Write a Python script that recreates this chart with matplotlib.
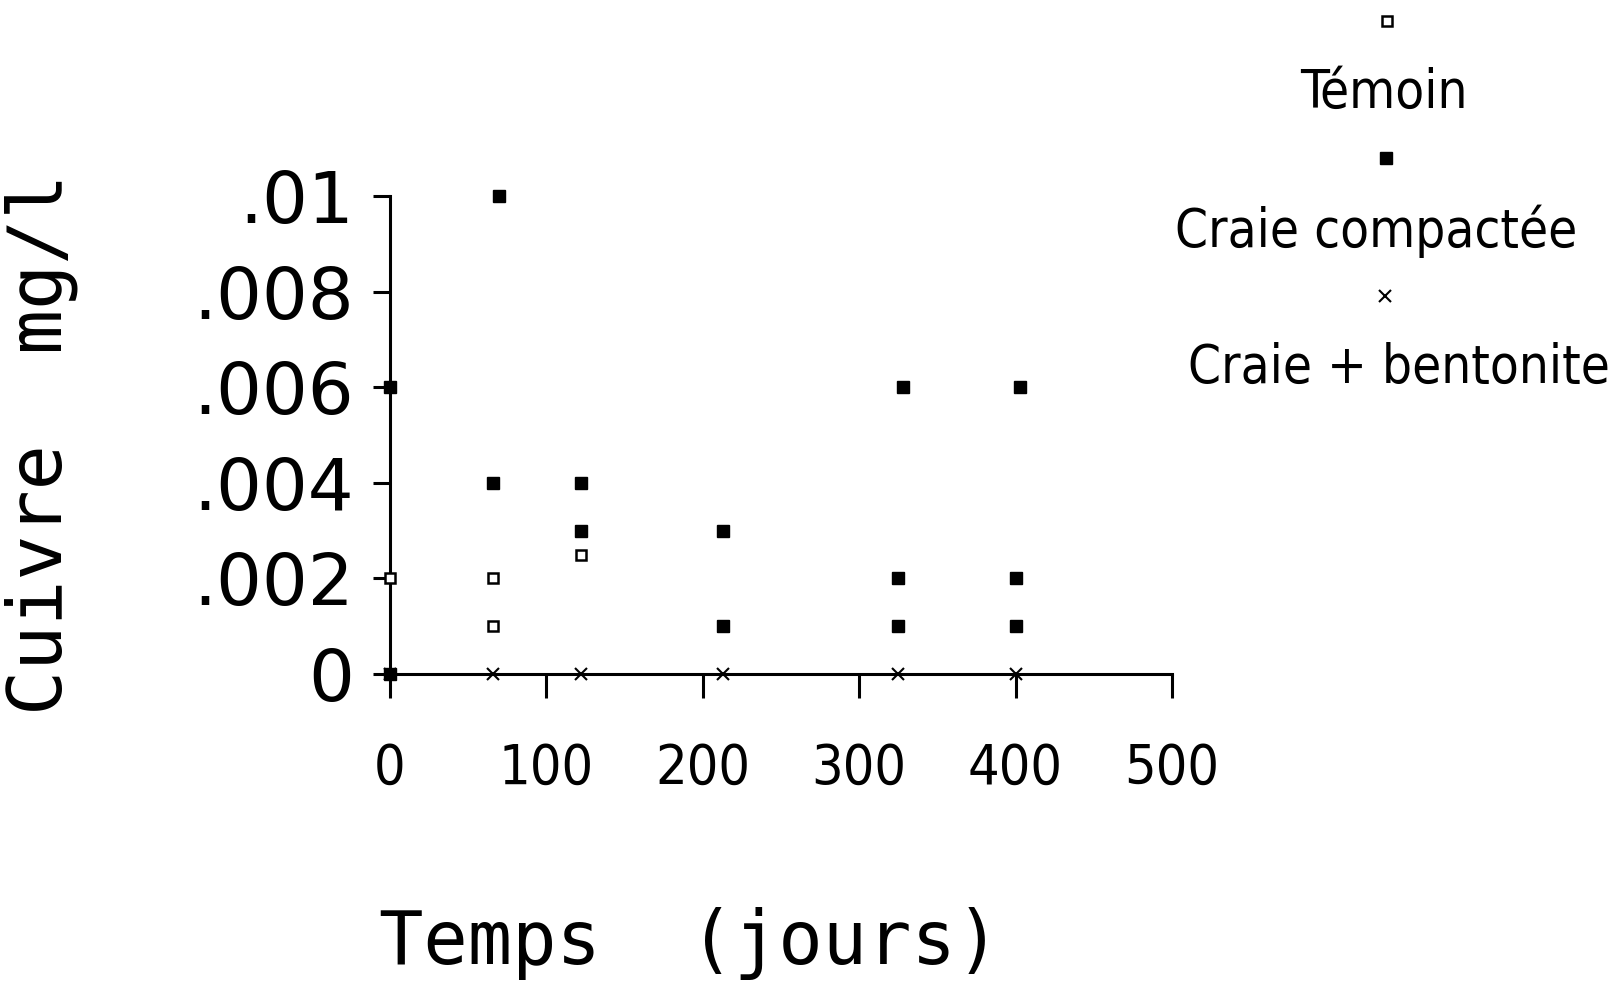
import matplotlib
matplotlib.use("Agg")
from matplotlib import pyplot as plt
from matplotlib.lines import Line2D

# data (days, mg/l)
temoin_x = [0, 66, 66, 122, 213, 325, 400]
temoin_y = [0.002, 0.002, 0.001, 0.0025, 0.001, 0.002, 0.002]

compactee_x = [0, 0, 70, 66, 122, 122, 213, 213, 328, 325, 325, 403, 400, 400]
compactee_y = [0.006, 0.0, 0.01, 0.004, 0.004, 0.003, 0.003, 0.001, 0.006, 0.002, 0.001,
               0.006, 0.002, 0.001]

bentonite_x = [0, 66, 122, 213, 325, 400]
bentonite_y = [0.0, 0.0, 0.0, 0.0, 0.0, 0.0]

x_ticks = [0, 100, 200, 300, 400, 500]
y_ticks = [0, 0.002, 0.004, 0.006, 0.008, 0.01]
y_tick_labels = ["0", ".002", ".004", ".006", ".008", ".01"]

labels = ["Témoin", "Craie compactée", "Craie + bentonite"]

narrow = dict(family="DejaVu Sans", stretch="condensed")
mono = ["DejaVu Sans Mono", "DejaVu Sans"]

fig = plt.figure(figsize=(16.18, 9.83), dpi=100)
ax = fig.add_axes([0.2410, 0.3143, 0.4833, 0.4863])

ax.plot(temoin_x, temoin_y, ls="none", marker="s", ms=7, mfc="white",
        mec="black", mew=1.8, clip_on=False, zorder=3)
ax.plot(compactee_x, compactee_y, ls="none", marker="s", ms=9, mfc="black",
        mec="black", clip_on=False, zorder=4)
ax.plot(bentonite_x, bentonite_y, ls="none", marker="x", ms=8, mec="black",
        mew=1.5, clip_on=False, zorder=4)

ax.set_xlim(0, 500)
ax.set_ylim(0, 0.01)
for s in ["top", "right"]:
    ax.spines[s].set_visible(False)
for s in ["left", "bottom"]:
    ax.spines[s].set_linewidth(2.2)

ax.set_xticks(x_ticks)
ax.set_xticklabels([str(v) for v in x_ticks], fontsize=40, **narrow)
ax.set_yticks(y_ticks)
ax.set_yticklabels(y_tick_labels, fontsize=52)
ax.tick_params(axis="x", direction="out", length=17, width=2.2, pad=32)
ax.tick_params(axis="y", direction="out", length=12, width=2.2, pad=14)

fig.text(0.426, 0.0397, "Temps  (jours)", family=mono, fontsize=53,
         ha="center", va="center")
fig.text(0.0255, 0.548, "Cuivre  mg/l", family=mono, fontsize=54,
         ha="center", va="center", rotation=90)

# legend, markers stacked above their labels
fig.add_artist(Line2D([0.857], [0.979], transform=fig.transFigure, marker="s",
                      ms=7, mfc="white", mec="black", mew=1.8, ls="none"))
fig.text(0.8554, 0.905, labels[0], fontsize=38, ha="center", va="center", **narrow)
fig.add_artist(Line2D([0.8565], [0.839], transform=fig.transFigure, marker="s",
                      ms=9, mfc="black", mec="black", ls="none"))
fig.text(0.8504, 0.765, labels[1], fontsize=38, ha="center", va="center", **narrow)
fig.add_artist(Line2D([0.8559], [0.699], transform=fig.transFigure, marker="x",
                      ms=8, mec="black", mew=1.5, ls="none"))
fig.text(0.8647, 0.626, labels[2], fontsize=38, ha="center", va="center", **narrow)

fig.savefig("out.png", dpi=100)
